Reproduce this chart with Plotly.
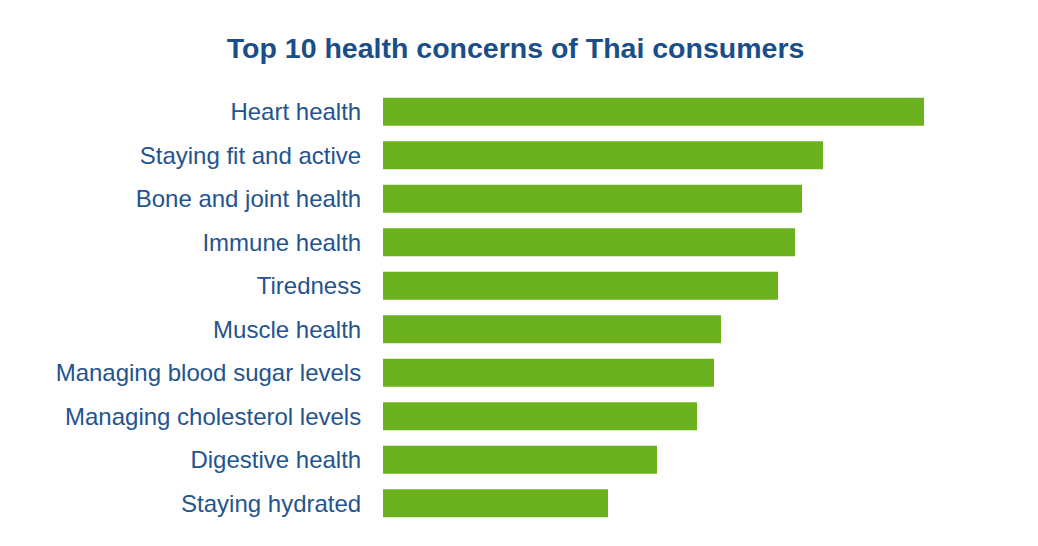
import plotly.graph_objects as go

# health concerns, top to bottom as in the chart
concerns = [
    "Heart health",
    "Staying fit and active",
    "Bone and joint health",
    "Immune health",
    "Tiredness",
    "Muscle health",
    "Managing blood sugar levels",
    "Managing cholesterol levels",
    "Digestive health",
    "Staying hydrated",
]
# relative share (no axis shown in the original)
scores = [54.1, 44.0, 41.9, 41.2, 39.5, 33.8, 33.1, 31.4, 27.4, 22.5]

fig = go.Figure(
    go.Bar(
        x=scores,
        y=concerns,
        orientation="h",
        marker=dict(color="#6cb21e", line=dict(width=0)),
        hoverinfo="x+y",
    )
)

fig.update_layout(
    width=1038,
    height=546,
    paper_bgcolor="white",
    plot_bgcolor="white",
    font=dict(family="Liberation Sans, Arial, sans-serif", color="#24548e"),
    title=dict(
        text="<b>Top 10 health concerns of Thai consumers</b>",
        x=0.489,
        xanchor="center",
        y=0.927,
        yanchor="middle",
        font=dict(size=28.5, color="#1b4e88"),
    ),
    margin=dict(l=375, r=122, t=82, b=29),
    bargap=0.355,
    showlegend=False,
)
fig.update_xaxes(visible=False, range=[0, max(scores)])
fig.update_yaxes(
    autorange="reversed",
    showgrid=False,
    showline=False,
    ticks="outside",
    ticklen=16,
    tickcolor="rgba(0,0,0,0)",
    tickfont=dict(size=24, color="#24548e"),
)

fig.write_html("out.html")
